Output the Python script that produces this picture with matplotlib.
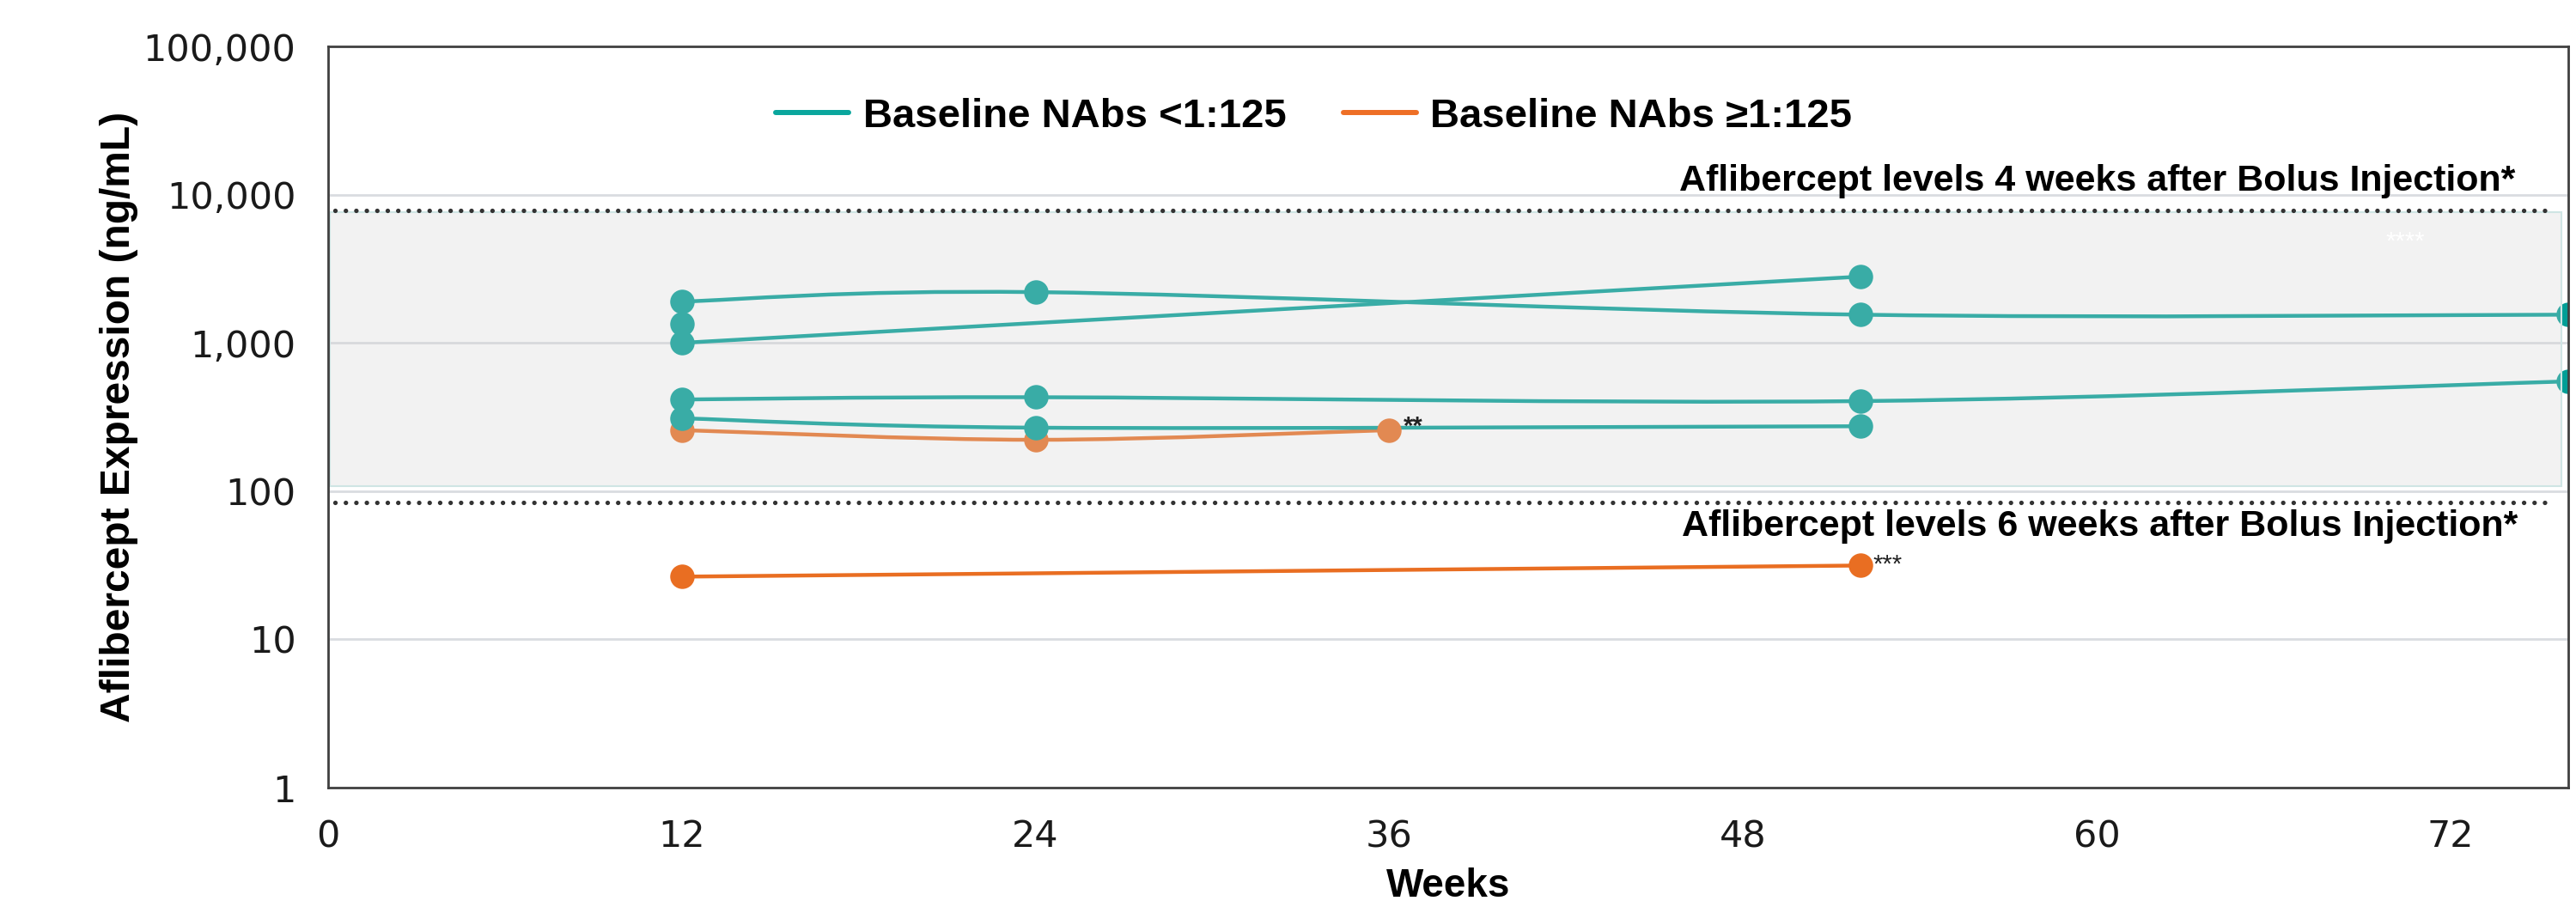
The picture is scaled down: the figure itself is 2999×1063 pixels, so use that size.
import numpy as np
import matplotlib
matplotlib.use("Agg")
import matplotlib.pyplot as plt
from matplotlib.path import Path
from matplotlib.patches import PathPatch, Rectangle
from matplotlib.lines import Line2D
from matplotlib.ticker import FixedLocator, NullLocator, FixedFormatter

# ---- data (weeks, ng/mL) ----
teal_weeks = [
    [12, 24, 52, 76],
    [12, 52],
    [12],
    [12, 24, 52, 76],
    [12, 24, 52],
]
teal_values = [
    [1900, 2200, 1550, 1550],
    [1000, 2800],
    [1350],
    [415, 430, 405, 550],
    [310, 268, 274],
]
orange_weeks = [
    [12, 24, 36],
    [12, 52],
]
orange_values = [
    [258, 222, 258],
    [26.5, 31.5],
]

# reference band and dotted levels
band_low, band_high = 108, 7570
level_4wk = 7800
level_6wk = 84

x_ticks = [0, 12, 24, 36, 48, 60, 72]
y_ticks = [1, 10, 100, 1000, 10000, 100000]
y_tick_labels = ["1", "10", "100", "1,000", "10,000", "100,000"]

legend_labels = ["Baseline NAbs <1:125", "Baseline NAbs \u22651:125"]

TEAL = "#009E96"
ORANGE = "#E96E22"
SANS = ["Liberation Sans", "DejaVu Sans"]


def smooth_path(xs, ys):
    # Catmull-Rom style bezier, worked out in (week, log10 value) space
    lx = np.array(xs, float)
    ly = np.log10(np.array(ys, float))
    n = len(lx)
    pts = np.column_stack([lx, ly])
    verts = [pts[0]]
    codes = [Path.MOVETO]
    for i in range(n - 1):
        p0 = pts[max(i - 1, 0)]
        p1 = pts[i]
        p2 = pts[i + 1]
        p3 = pts[min(i + 2, n - 1)]
        c1 = p1 + (p2 - p0) / 6.0
        c2 = p2 - (p3 - p1) / 6.0
        verts += [c1, c2, p2]
        codes += [Path.CURVE4] * 3
    verts = np.array(verts)
    verts[:, 1] = 10 ** verts[:, 1]
    return Path(verts, codes)


fig = plt.figure(figsize=(29.99, 10.63), dpi=100)
ax = fig.add_axes([0.1274, 0.1373, 0.8696, 0.8119])
ax.set_yscale("log")
ax.set_xlim(0, 76)
ax.set_ylim(1, 100000)

# gridlines
for v in y_ticks[1:-1]:
    ax.axhline(v, color="#D9DCE0", lw=2, zorder=0)


def draw_series(weeks, values, color):
    for w, v in zip(weeks, values):
        if len(w) > 1:
            patch = PathPatch(smooth_path(w, v), fill=False, edgecolor=color,
                              lw=3.2, capstyle="round", zorder=3)
            ax.add_patch(patch)
        ax.plot(w, v, "o", ms=20.5, color=color, mec="none", zorder=4)


draw_series(orange_weeks, orange_values, ORANGE)
draw_series(teal_weeks, teal_values, TEAL)

# translucent band laid over the data, as in the original
ax.add_patch(Rectangle((0.06, band_low), 75.7, band_high - band_low,
                       facecolor="#D3D3D3", alpha=0.275, edgecolor="none",
                       zorder=5))
ax.add_patch(Rectangle((0.06, band_low), 75.7, band_high - band_low,
                       fill=False, edgecolor="#CFE5E4", lw=1.5, zorder=5))

# dotted reference levels
for lvl in [level_4wk, level_6wk]:
    ax.axhline(lvl, xmin=0.003, xmax=0.9925, color="#333333", lw=3.8,
               linestyle=(0, (0.01, 2.3)), dash_capstyle="round", zorder=6)

ax.text(74.2, 12300, "Aflibercept levels 4 weeks after Bolus Injection*",
        ha="right", va="center", fontsize=31, fontweight="bold",
        family=SANS, zorder=7)
ax.text(74.3, 57.7, "Aflibercept levels 6 weeks after Bolus Injection*",
        ha="right", va="center", fontsize=31, fontweight="bold",
        family=SANS, zorder=7)

ax.text(36.48, 244, "**", ha="left", va="baseline", fontsize=21,
        fontweight="bold", color="#222222", family=SANS, zorder=7)
ax.text(52.4, 28.8, "***", ha="left", va="baseline", fontsize=21,
        color="#222222", family=SANS, zorder=7)
ax.text(69.8, 4295, "****", ha="left", va="baseline", fontsize=21,
        color="white", family=SANS, zorder=7)

# axes styling
for s in ax.spines.values():
    s.set_color("#404040")
    s.set_linewidth(2)
    s.set_zorder(8)

ax.xaxis.set_major_locator(FixedLocator(x_ticks))
ax.yaxis.set_major_locator(FixedLocator(y_ticks))
ax.yaxis.set_major_formatter(FixedFormatter(y_tick_labels))
ax.yaxis.set_minor_locator(NullLocator())
ax.tick_params(axis="both", length=0, colors="#1A1A1A")
ax.tick_params(axis="y", pad=27, labelsize=31)
ax.tick_params(axis="x", pad=26, labelsize=31)
for lab in ax.get_yticklabels() + ax.get_xticklabels():
    lab.set_family("DejaVu Sans")

ax.set_xlabel("Weeks", fontsize=33, fontweight="bold", family=SANS)
ax.xaxis.set_label_coords(0.5, -0.108)
ax.set_ylabel("Aflibercept Expression (ng/mL)", fontsize=34.5,
              fontweight="bold", family=SANS)
ax.yaxis.set_label_coords(-0.0847, 0.5)

handles = [Line2D([], [], color="#0AA69D", lw=4.3, solid_capstyle="round"),
           Line2D([], [], color="#EE6F26", lw=4.3, solid_capstyle="round")]
ax.legend(handles, legend_labels, loc="center left",
          bbox_to_anchor=(0.1998, 0.905), ncol=2, frameon=False,
          borderpad=0, borderaxespad=0, handlelength=1.8,
          handletextpad=0.35, columnspacing=1.4,
          prop={"family": SANS, "weight": "bold", "size": 34})

fig.savefig("out.png", dpi=100)
